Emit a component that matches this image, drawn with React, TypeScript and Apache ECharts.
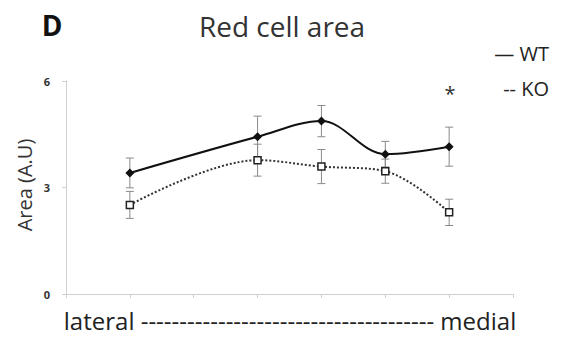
import React, { useEffect, useRef } from "react";
import * as echarts from "echarts";

const positions = [1, 3, 4, 5, 6];
const wtValues = [3.41, 4.43, 4.87, 3.94, 4.15];
const wtErrors = [0.42, 0.58, 0.44, 0.36, 0.55];
const koValues = [2.51, 3.77, 3.59, 3.46, 2.3];
const koErrors = [0.38, 0.45, 0.48, 0.34, 0.37];
const yTicks = [0, 3, 6];

const FONT = "'Open Sans', 'Noto Sans', sans-serif";

export default function App() {
  const ref = useRef<HTMLDivElement>(null);
  useEffect(() => {
    if (!ref.current) return;
    const chart = echarts.init(ref.current, undefined, { renderer: "svg" });
    const errData = (vals: number[], errs: number[]) =>
      positions.map((p, i) => [p, vals[i] - errs[i], vals[i] + errs[i]]);
    const renderErr = (params: any, api: any) => {
      const x = api.value(0);
      const lo = api.coord([x, api.value(1)]);
      const hi = api.coord([x, api.value(2)]);
      const cap = 4;
      const style = { stroke: "#8a8a8a", lineWidth: 1 };
      return {
        type: "group",
        children: [
          { type: "line", shape: { x1: lo[0], y1: lo[1], x2: hi[0], y2: hi[1] }, style },
          { type: "line", shape: { x1: lo[0] - cap, y1: lo[1], x2: lo[0] + cap, y2: lo[1] }, style },
          { type: "line", shape: { x1: hi[0] - cap, y1: hi[1], x2: hi[0] + cap, y2: hi[1] }, style },
        ],
      };
    };
    chart.setOption({
      animation: false,
      backgroundColor: "#fff",
      grid: { left: 66, right: 48, top: 81, bottom: 47 },
      xAxis: {
        type: "value",
        min: 0,
        max: 7,
        interval: 1,
        axisLabel: { show: false },
        axisLine: { lineStyle: { color: "#d0d0d0", width: 1 } },
        axisTick: { show: true, length: 4, lineStyle: { color: "#d0d0d0" } },
        splitLine: { show: false },
      },
      yAxis: {
        type: "value",
        min: 0,
        max: 6,
        interval: 3,
        axisLabel: {
          fontSize: 11,
          fontWeight: "bold",
          color: "#333",
          fontFamily: FONT,
          margin: 16,
          formatter: (v: number) => (yTicks.includes(v) ? String(v) : ""),
        },
        axisLine: { show: true, lineStyle: { color: "#d0d0d0", width: 1 } },
        axisTick: { show: true, length: 4, lineStyle: { color: "#d0d0d0" } },
        splitLine: { show: false },
      },
      series: [
        {
          type: "custom",
          renderItem: renderErr,
          data: errData(wtValues, wtErrors),
          z: 1,
        },
        {
          type: "custom",
          renderItem: renderErr,
          data: errData(koValues, koErrors),
          z: 1,
        },
        {
          name: "WT",
          type: "line",
          smooth: 0.35,
          data: positions.map((p, i) => [p, wtValues[i]]),
          symbol: "diamond",
          symbolSize: 9,
          itemStyle: { color: "#111" },
          lineStyle: { color: "#111", width: 2 },
          z: 3,
        },
        {
          name: "KO",
          type: "line",
          smooth: 0.35,
          data: positions.map((p, i) => [p, koValues[i]]),
          symbol: "rect",
          symbolSize: 7,
          itemStyle: { color: "#fff", borderColor: "#222", borderWidth: 1.5 },
          lineStyle: { color: "#333", width: 2, type: [2, 2] },
          z: 2,
        },
      ],
      graphic: [
        {
          type: "text",
          x: 52,
          y: 25,
          style: {
            text: "D",
            fontSize: 28,
            fontWeight: "bold",
            fontFamily: FONT,
            fill: "#111",
            align: "center",
            verticalAlign: "middle",
          },
        },
        {
          type: "text",
          x: 282,
          y: 26,
          style: {
            text: "Red cell area",
            fontSize: 28,
            fontFamily: FONT,
            fill: "#333",
            align: "center",
            verticalAlign: "middle",
          },
        },
        {
          type: "text",
          x: 549,
          y: 53,
          style: {
            text: "— WT",
            fontSize: 20,
            fontFamily: FONT,
            fill: "#222",
            align: "right",
            verticalAlign: "middle",
          },
        },
        {
          type: "text",
          x: 549,
          y: 88,
          style: {
            text: "-- KO",
            fontSize: 20,
            fontFamily: FONT,
            fill: "#222",
            align: "right",
            verticalAlign: "middle",
          },
        },
        {
          type: "text",
          x: 450,
          y: 93,
          style: {
            text: "*",
            fontSize: 20,
            fontFamily: FONT,
            fill: "#333",
            align: "center",
            verticalAlign: "middle",
          },
        },
        {
          type: "text",
          x: 24,
          y: 185,
          rotation: Math.PI / 2,
          style: {
            text: "Area (A.U)",
            fontSize: 20,
            fontFamily: FONT,
            fill: "#333",
            align: "center",
            verticalAlign: "middle",
          },
        },
        {
          type: "text",
          x: 290,
          y: 320,
          style: {
            text: "lateral -------------------------------------- medial",
            fontSize: 24,
            fontFamily: FONT,
            fill: "#222",
            align: "center",
            verticalAlign: "middle",
          },
        },
      ],
    });
    return () => chart.dispose();
  }, []);
  return <div ref={ref} style={{ width: 561, height: 341, margin: -8 }} />;
}
